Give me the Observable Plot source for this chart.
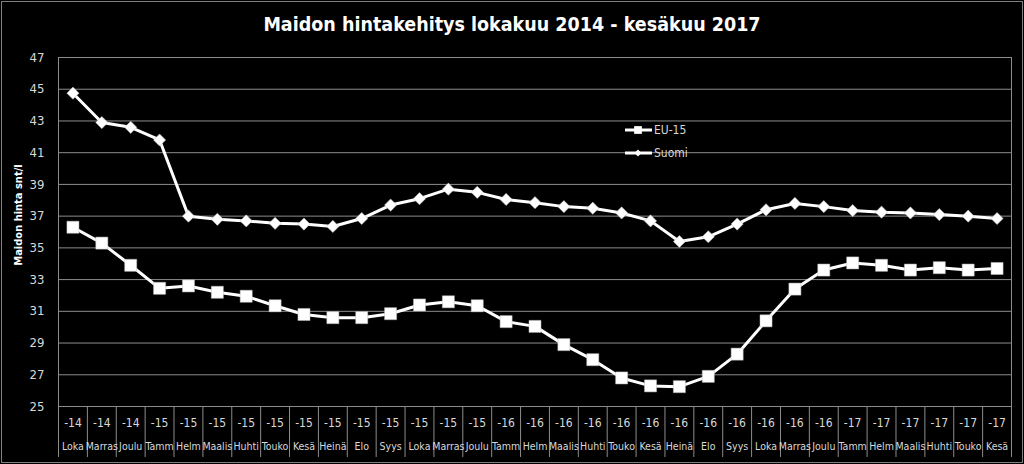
<!DOCTYPE html>
<html><head><meta charset="utf-8">
<script src="https://cdn.jsdelivr.net/npm/d3@7"></script>
<script src="https://cdn.jsdelivr.net/npm/@observablehq/plot@0.6"></script>
<style>
html,body{margin:0;padding:0;background:#000;width:1024px;height:464px;overflow:hidden;font-family:"Liberation Sans Narrow","DejaVu Sans Condensed","Liberation Sans",sans-serif;}
#title{position:absolute;left:0;top:0;width:1024px;height:45px;text-align:center;color:#fff;font-weight:bold;font-size:19.5px;line-height:50px;}
#chart{position:absolute;left:0;top:45px;}
#ylabel{position:absolute;left:18px;top:215px;transform:translate(-50%,-50%) rotate(-90deg);color:#fff;font-weight:bold;font-size:11px;white-space:nowrap;}
#frame{position:absolute;left:1px;top:1px;width:1020px;height:460px;border:1px solid #7f7f7f;pointer-events:none;}
#legend{position:absolute;left:618px;top:118px;}
#legend text{fill:#d9d9d9;font-size:12px;}
</style></head><body>
<div id="title">Maidon hintakehitys lokakuu 2014 - kesäkuu 2017</div>
<div id="chart"></div>
<div id="ylabel">Maidon hinta snt/l</div>
<svg id="legend" width="100" height="50"></svg>
<div id="frame"></div>
<script>
const seriesNames = ["EU-15", "Suomi"];
const years = ["-14","-14","-14",
  "-15","-15","-15","-15","-15","-15","-15","-15","-15","-15","-15","-15",
  "-16","-16","-16","-16","-16","-16","-16","-16","-16","-16","-16","-16",
  "-17","-17","-17","-17","-17","-17"];
const months = ["Loka","Marras","Joulu",
  "Tamm","Helm","Maalis","Huhti","Touko","Kesä","Heinä","Elo","Syys","Loka","Marras","Joulu",
  "Tamm","Helm","Maalis","Huhti","Touko","Kesä","Heinä","Elo","Syys","Loka","Marras","Joulu",
  "Tamm","Helm","Maalis","Huhti","Touko","Kesä"];
const eu15 = [36.3,35.3,33.9,
  32.45,32.6,32.2,31.95,31.35,30.8,30.6,30.6,30.85,31.4,31.6,31.35,
  30.35,30.05,28.9,27.95,26.8,26.3,26.25,26.9,28.3,30.4,32.4,33.6,
  34.05,33.9,33.6,33.75,33.6,33.7];
const suomi = [44.75,42.9,42.6,
  41.8,37.0,36.8,36.7,36.55,36.5,36.35,36.85,37.7,38.1,38.7,38.5,
  38.05,37.85,37.6,37.5,37.2,36.7,35.4,35.7,36.5,37.4,37.8,37.6,
  37.35,37.25,37.2,37.1,37.0,36.85];
const yTicks = [25,27,29,31,33,35,37,39,41,43,45,47];

const n = months.length;
const idx = d3.range(n);
const euRows = idx.map(i => ({x: i + 0.5, v: eu15[i], s: seriesNames[0]}));
const fiRows = idx.map(i => ({x: i + 0.5, v: suomi[i], s: seriesNames[1]}));
const grid = "#8c8c8c";
const ff = '"Liberation Sans Narrow","DejaVu Sans Condensed","Liberation Sans",sans-serif';

const chart = Plot.plot({
  width: 1024, height: 419,
  marginTop: 12, marginBottom: 58, marginLeft: 58, marginRight: 13,
  x: {type: "linear", domain: [0, n]},
  y: {domain: [25, 47]},
  style: {background: "#000", color: "#d9d9d9", fontSize: "12px", fontFamily: ff},
  marks: [
    Plot.gridY(yTicks, {stroke: grid, strokeOpacity: 1}),
    Plot.frame({stroke: grid}),
    Plot.axisY(yTicks, {tickSize: 0, tickPadding: 14, fontSize: 13, label: null}),
    Plot.axisX(d3.range(0, n + 1), {tickSize: 51, tickFormat: () => "", stroke: grid, strokeOpacity: 1, label: null}),
    Plot.axisX(idx.map(i => i + 0.5), {tickSize: 0, tickPadding: 12, tickFormat: d => years[Math.floor(d)], label: null}),
    Plot.axisX(idx.map(i => i + 0.5), {tickSize: 0, tickPadding: 36, fontSize: 10.5, tickFormat: d => months[Math.floor(d)], label: null}),
    Plot.line(euRows, {x: "x", y: "v", stroke: "#fff", strokeWidth: 3}),
    Plot.dot(euRows, {x: "x", y: "v", symbol: "square", r: 6.8, fill: "#fff", stroke: "#bbb", strokeWidth: 0.5}),
    Plot.line(fiRows, {x: "x", y: "v", stroke: "#fff", strokeWidth: 3}),
    Plot.dot(fiRows, {x: "x", y: "v", symbol: "diamond2", r: 5.5, fill: "#fff", stroke: "#bbb", strokeWidth: 0.5})
  ]
});
document.getElementById("chart").appendChild(chart);

// legend
const lg = d3.select("#legend");
const items = [{name: seriesNames[0], sym: d3.symbolSquare, size: 60, y: 12},
               {name: seriesNames[1], sym: d3.symbolDiamond2 || d3.symbolSquare2, size: 30, y: 35}];
items.forEach(it => {
  lg.append("line").attr("x1", 7).attr("x2", 34).attr("y1", it.y).attr("y2", it.y)
    .attr("stroke", "#fff").attr("stroke-width", 3);
  lg.append("path").attr("d", d3.symbol(it.sym, it.size)()).attr("fill", "#fff")
    .attr("transform", `translate(20,${it.y})` + (it.name === "Suomi" && !d3.symbolDiamond2 ? " rotate(45)" : ""));
  lg.append("text").attr("x", 36).attr("y", it.y).attr("dy", "0.35em").text(it.name);
});
</script>
</body></html>
